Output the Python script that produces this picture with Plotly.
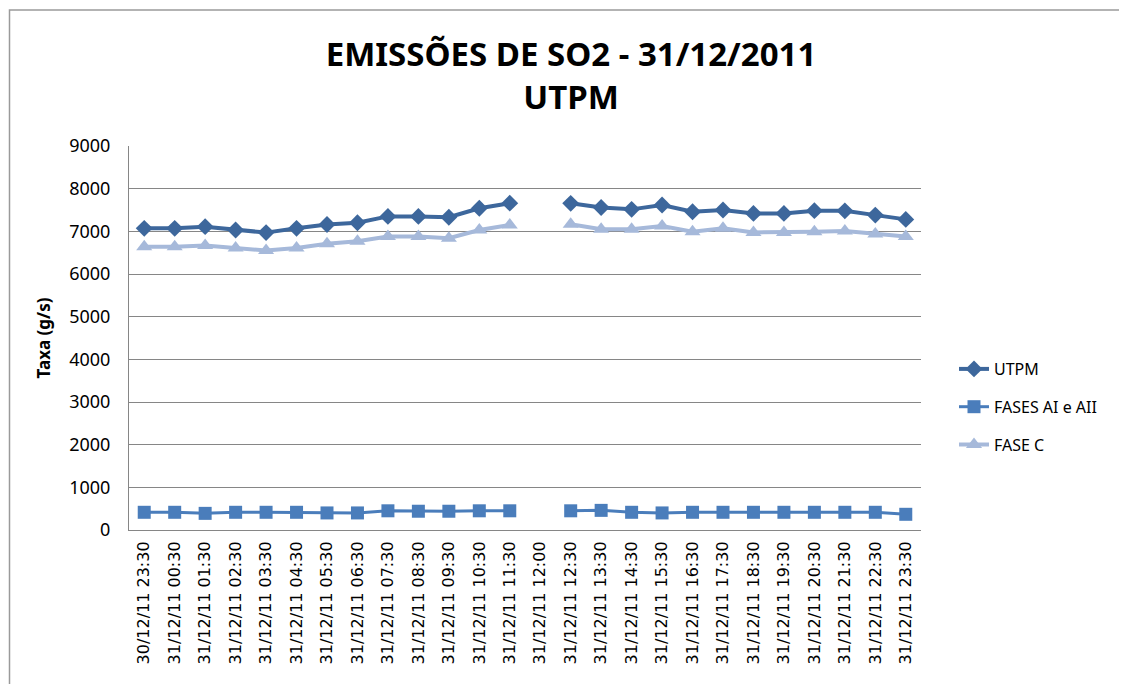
import plotly.graph_objects as go

categories = ["30/12/11 23:30"] + [f"31/12/11 {h:02d}:30" for h in range(0, 12)] + ["31/12/11 12:00"] + [f"31/12/11 {h:02d}:30" for h in range(12, 24)]

utpm = [7070, 7070, 7110, 7030, 6970, 7070, 7160, 7200, 7350, 7350, 7330, 7540, 7660,
        None,
        7656, 7560, 7515, 7616, 7460, 7500, 7420, 7420, 7485, 7480, 7380, 7280]
fases_ai_aii = [415, 415, 390, 415, 415, 415, 400, 400, 450, 440, 440, 450, 450,
                None,
                450, 460, 415, 400, 415, 415, 415, 415, 415, 415, 415, 368]
fase_c = [6640, 6640, 6670, 6610, 6550, 6610, 6710, 6770, 6880, 6880, 6840, 7030, 7150,
          None,
          7165, 7050, 7050, 7125, 6990, 7070, 6975, 6975, 6990, 7010, 6940, 6880]

y_ticks = [0, 1000, 2000, 3000, 4000, 5000, 6000, 7000, 8000, 9000]

# page body has an 8px offset; compensate so the plot area sits at x 129..921, y 146..530
OFF = 8
W, H = 1127, 684
L, T, R, B = 129 - OFF, 146 - OFF, W - (921 - OFF), H - (530 - OFF)

fig = go.Figure()
fig.add_trace(go.Scatter(x=categories, y=utpm, name="UTPM", mode="lines+markers",
                         line=dict(color="#3D679C", width=4),
                         marker=dict(symbol="diamond", size=13, color="#3D679C"),
                         legendgroup="a", connectgaps=False))
fig.add_trace(go.Scatter(x=categories, y=fases_ai_aii, name="FASES AI e AII", mode="lines+markers",
                         line=dict(color="#4A7DBB", width=3),
                         marker=dict(symbol="square", size=13, color="#4A7DBB"),
                         legendgroup="b", connectgaps=False))
fig.add_trace(go.Scatter(x=categories, y=fase_c, name="FASE C", mode="lines+markers",
                         line=dict(color="#A6B9DA", width=4),
                         marker=dict(symbol="triangle-up", size=14, color="#A6B9DA"),
                         legendgroup="c", connectgaps=False))

fig.update_layout(
    width=W, height=H,
    margin=dict(l=L, r=R, t=T, b=B),
    paper_bgcolor="white", plot_bgcolor="white",
    title=dict(text="<b>EMISSÕES DE SO2 - 31/12/2011<br>UTPM</b>",
               x=((325 + 817) / 2 - OFF) / W, xanchor="center", y=1 - (66 - OFF) / H, yanchor="middle",
               font=dict(family="Noto Sans", size=33, color="black")),
    legend=dict(x=(954 - 129) / 792, y=(530 - 352) / 384, xanchor="left", yanchor="top",
                font=dict(family="Noto Sans", size=16, color="black"),
                traceorder="grouped", tracegroupgap=14, bgcolor="rgba(0,0,0,0)"),
    showlegend=True,
)
fig.update_xaxes(type="category", categoryorder="array", categoryarray=categories,
                 tickangle=-90, showgrid=False, showline=True, linecolor="#868686", linewidth=1,
                 ticks="", tickfont=dict(family="DejaVu Sans", size=16, color="black"),
                 ticklabelstandoff=4, range=[-0.5, len(categories) - 0.5])
fig.update_yaxes(range=[0, 9000], tickvals=y_ticks, showgrid=True, gridcolor="#868686", gridwidth=1,
                 showline=True, linecolor="#868686", linewidth=1, ticks="", zeroline=False,
                 tickfont=dict(family="Noto Sans", size=18, color="black"), ticklabelstandoff=14,
                 title=dict(text="<b>Taxa (g/s)</b>", font=dict(family="Noto Sans", size=17, color="black"),
                            standoff=14))

# outer chart border
fig.add_shape(type="rect", xref="paper", yref="paper",
              x0=(9.5 - 129) / 792, x1=(1135 - 129) / 792, y0=(530 - 700) / 384, y1=(530 - 10) / 384,
              line=dict(color="#9A9A9A", width=1.5), fillcolor="rgba(0,0,0,0)", layer="below")

fig.write_html("out.html")
